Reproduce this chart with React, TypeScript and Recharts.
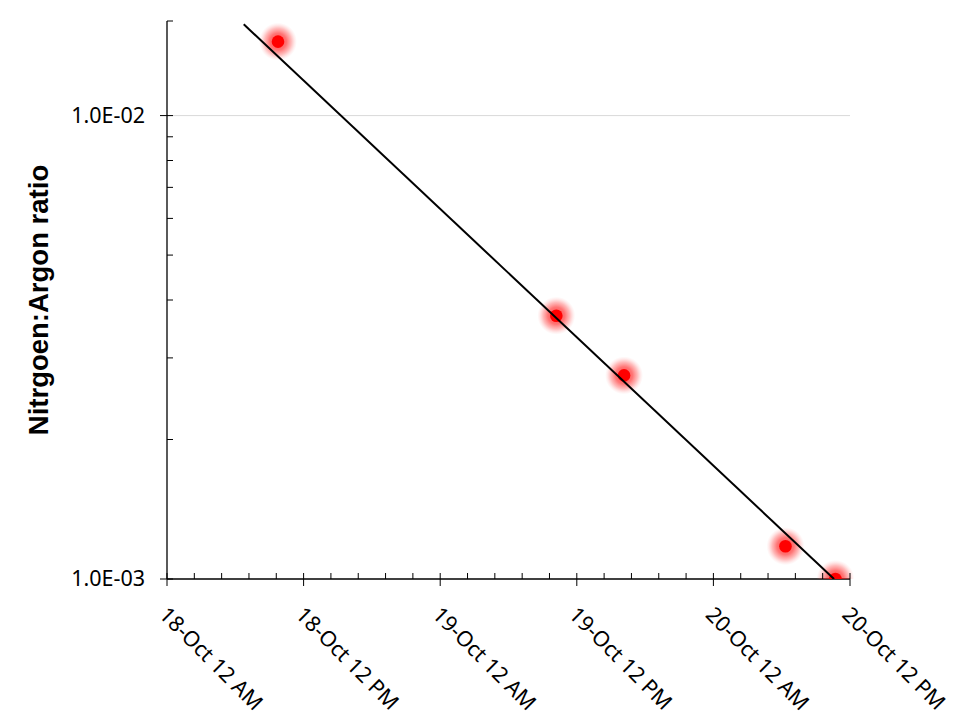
import { ScatterChart, Scatter, XAxis, YAxis, ReferenceLine } from "recharts";

// hours after 18-Oct 12 AM
const sampleHours = [9.75, 34.2, 40.15, 54.33, 58.72];
const sampleRatios = [0.01444, 0.0037, 0.00275, 0.001177, 0.001];

// exponential trendline end points
const trendHours = [6.74, 58.6];
const trendRatios = [0.01574, 0.001];

const xTicks = [
  0, 2.4, 4.8, 7.2, 9.6, 12, 14.4, 16.8, 19.2, 21.6, 24, 26.4, 28.8, 31.2, 33.6, 36,
  38.4, 40.8, 43.2, 45.6, 48, 50.4, 52.8, 55.2, 57.6, 60,
];
const xMajorLabels: Record<number, string> = {
  0: "18-Oct 12 AM",
  12: "18-Oct 12 PM",
  24: "19-Oct 12 AM",
  36: "19-Oct 12 PM",
  48: "20-Oct 12 AM",
  60: "20-Oct 12 PM",
};

const yTicks = [0.001, 0.002, 0.003, 0.004, 0.005, 0.006, 0.007, 0.008, 0.009, 0.01, 0.016];
const yMajorLabels: Record<number, string> = {
  0.001: "1.0E-03",
  0.01: "1.0E-02",
};
const yTitle = "Nitrgoen:Argon ratio";

const samples = sampleHours.map((t, i) => ({ t, v: sampleRatios[i] }));
const trend = trendHours.map((t, i) => ({ t, v: trendRatios[i] }));

const W = 960;
const H = 720;
const AXIS_X = 167;
const AXIS_Y = 579;
const FONT = "'Noto Sans', sans-serif";

function XTick(props: any) {
  const { x, payload } = props;
  const label = xMajorLabels[payload.value];
  if (label === undefined) {
    return <line x1={x} x2={x} y1={AXIS_Y - 6} y2={AXIS_Y} stroke="#000" strokeWidth={1} />;
  }
  const bx = x - 9;
  const by = AXIS_Y + 37;
  return (
    <g>
      <line x1={x} x2={x} y1={AXIS_Y - 6} y2={AXIS_Y + 7} stroke="#000" strokeWidth={1} />
      <text
        x={bx}
        y={by}
        transform={`rotate(45, ${bx}, ${by})`}
        textAnchor="start"
        fontFamily={FONT}
        fontSize={21.5}
        fill="#000"
      >
        {label}
      </text>
    </g>
  );
}

function YTick(props: any) {
  const { y, payload } = props;
  const label = yMajorLabels[payload.value];
  if (label === undefined) {
    return <line x1={AXIS_X} x2={AXIS_X + 6} y1={y} y2={y} stroke="#000" strokeWidth={1} />;
  }
  return (
    <g>
      <line x1={AXIS_X - 7} x2={AXIS_X + 6} y1={y} y2={y} stroke="#000" strokeWidth={1} />
      <text x={145} y={y} dy={7} textAnchor="end" fontFamily={FONT} fontSize={21.5} fill="#000">
        {label}
      </text>
    </g>
  );
}

function YTitle() {
  return (
    <text
      x={48}
      y={300}
      transform="rotate(-90, 48, 300)"
      textAnchor="middle"
      fontFamily="'Liberation Sans', sans-serif"
      fontWeight="bold"
      fontSize={27.5}
      fill="#000"
    >
      {yTitle}
    </text>
  );
}

function GlowDot(props: any) {
  const { cx, cy } = props;
  return (
    <g>
      <circle cx={cx} cy={cy} r={19} fill="url(#glowFill)" />
      <circle cx={cx} cy={cy} r={6.3} fill="#ff0000" />
    </g>
  );
}

export default function App() {
  return (
    <div style={{ position: "absolute", left: 0, top: 0, width: W, height: H, background: "#fff" }}>
      <ScatterChart
        width={W}
        height={H}
        margin={{ top: 21, right: 110, bottom: 0, left: 0 }}
      >
        <defs>
          <radialGradient id="glowFill" cx="50%" cy="50%" r="50%">
            <stop offset="0%" stopColor="#ff0000" stopOpacity={0.75} />
            <stop offset="45%" stopColor="#ff1a1a" stopOpacity={0.6} />
            <stop offset="70%" stopColor="#ff3a3a" stopOpacity={0.35} />
            <stop offset="88%" stopColor="#ff6060" stopOpacity={0.12} />
            <stop offset="100%" stopColor="#ff8080" stopOpacity={0} />
          </radialGradient>
        </defs>
        <XAxis
          dataKey="t"
          type="number"
          domain={[0, 60]}
          ticks={xTicks}
          interval={0}
          height={141}
          axisLine={{ stroke: "#000", strokeWidth: 1.3 }}
          tickLine={false}
          tick={<XTick />}
        />
        <YAxis
          dataKey="v"
          type="number"
          scale="log"
          domain={[0.001, 0.016]}
          allowDataOverflow
          ticks={yTicks}
          interval={0}
          width={167}
          axisLine={{ stroke: "#000", strokeWidth: 1.3 }}
          tickLine={false}
          tick={<YTick />}
          label={{ content: () => <YTitle /> }}
        />
        <ReferenceLine y={0.01} stroke="#d9d9d9" strokeWidth={1} />
        <Scatter data={samples} shape={<GlowDot />} isAnimationActive={false} />
        <Scatter
          data={trend}
          line={{ stroke: "#000", strokeWidth: 2 }}
          shape={() => <g />}
          isAnimationActive={false}
        />
      </ScatterChart>
    </div>
  );
}
